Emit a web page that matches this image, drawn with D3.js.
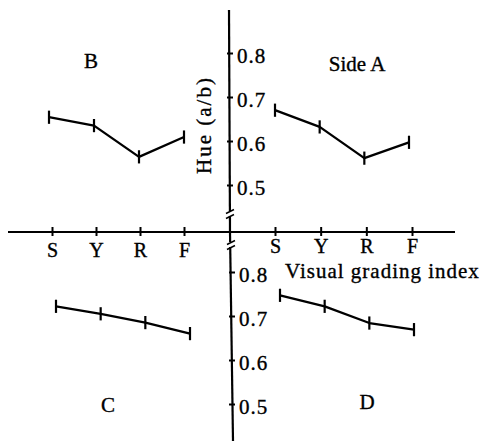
<!DOCTYPE html>
<html>
<head>
<meta charset="utf-8">
<script src="https://cdn.jsdelivr.net/npm/d3@7"></script>
<style>
html,body{margin:0;padding:0;background:#fff;}
svg{display:block;}
text{font-family:"Liberation Serif","Times New Roman",serif;fill:#000;stroke:#000;stroke-width:0.35px;}
</style>
</head>
<body>
<svg id="chart" width="484" height="441"></svg>
<script>
// ---- data ----
const grades = ["S", "Y", "R", "F"];
const yTicks = [0.5, 0.6, 0.7, 0.8];
const sideA = [0.670, 0.632, 0.561, 0.597];
const sideB = [0.654, 0.635, 0.564, 0.609];
const sideC = [0.722, 0.705, 0.685, 0.660];
const sideD = [0.747, 0.722, 0.684, 0.669];
const errA = [0.015, 0.015, 0.015, 0.015];
const errB = [0.015, 0.015, 0.015, 0.015];
const errC = [0.015, 0.015, 0.015, 0.015];
const errD = [0.015, 0.015, 0.015, 0.015];
const panelLabels = ["Side A", "B", "C", "D"];
const yTitle = "Hue (a/b)";
const xTitle = "Visual grading index";

const svg = d3.select("#chart");

// ---- scales ----
const yUpper = d3.scaleLinear().domain([0.5, 0.8]).range([185, 53]);
const yLower = d3.scaleLinear().domain([0.5, 0.8]).range([404, 272]);
const xLeftAxis = d3.scalePoint().domain(grades).range([52, 184]);
const xRightAxis = d3.scalePoint().domain(grades).range([275, 412]);
const xB = d3.scalePoint().domain(grades).range([49, 184]);
const xC = d3.scalePoint().domain(grades).range([56, 190]);
const xA = d3.scalePoint().domain(grades).range([275, 409]);
const xD = d3.scalePoint().domain(grades).range([280, 414]);

const axisY = 232;
const upperX = 230, lowerX = 232;

// ---- horizontal axis ----
svg.append("line").attr("x1", 8).attr("x2", 455).attr("y1", axisY).attr("y2", axisY)
  .attr("stroke", "#000").attr("stroke-width", 2);

function drawXAxis(scale, labelBaseline) {
  const g = svg.append("g").attr("transform", `translate(0,${axisY})`);
  const ax = d3.axisBottom(scale).tickSize(0).tickPadding(0);
  g.call(ax);
  g.select(".domain").remove();
  g.selectAll(".tick line").remove();
  g.selectAll(".tick").append("line")
    .attr("y1", -5).attr("y2", 4).attr("stroke", "#000").attr("stroke-width", 2);
  g.selectAll(".tick text")
    .attr("y", labelBaseline - axisY).attr("dy", null)
    .attr("font-size", 20).attr("font-family", "Liberation Serif, serif").attr("fill", "#000");
}
drawXAxis(xLeftAxis, 257);
drawXAxis(xRightAxis, 253);

// ---- vertical axes ----
svg.append("line").attr("x1", upperX - 1).attr("x2", upperX).attr("y1", 10).attr("y2", axisY)
  .attr("stroke", "#000").attr("stroke-width", 2.2);
svg.append("line").attr("x1", upperX).attr("x2", lowerX + 1).attr("y1", axisY).attr("y2", 441)
  .attr("stroke", "#000").attr("stroke-width", 2.2);

function drawYAxis(scale, x) {
  const g = svg.append("g").attr("transform", `translate(${x},0)`);
  const ax = d3.axisRight(scale).tickValues(yTicks).tickFormat(d3.format(".1f")).tickSize(0).tickPadding(0);
  g.call(ax);
  g.select(".domain").remove();
  g.selectAll(".tick line").remove();
  g.selectAll(".tick").append("line")
    .attr("x1", -3).attr("x2", 3).attr("stroke", "#000").attr("stroke-width", 2);
  g.selectAll(".tick text")
    .attr("x", 7).attr("dy", "0.45em")
    .attr("font-size", 21).attr("font-family", "Liberation Serif, serif")
    .attr("letter-spacing", 1).attr("fill", "#000");
}
drawYAxis(yUpper, upperX);
drawYAxis(yLower, lowerX);

// break marks
function breakMark(x, y) {
  svg.append("rect").attr("x", x - 4).attr("y", y - 3).attr("width", 8).attr("height", 5).attr("fill", "#fff");
  [-2.5, 2.5].forEach(o => {
    svg.append("line").attr("x1", x - 4).attr("x2", x + 4).attr("y1", y + o + 2).attr("y2", y + o - 2)
      .attr("stroke", "#000").attr("stroke-width", 1.5);
  });
}
breakMark(upperX, 214);
breakMark(lowerX - 1, 245);

// ---- series ----
function drawSeries(vals, errs, xs, ys) {
  const data = grades.map((g, i) => ({ g, v: vals[i], e: errs[i] }));
  const line = d3.line().x(d => xs(d.g)).y(d => ys(d.v));
  svg.append("path").datum(data).attr("d", line)
    .attr("fill", "none").attr("stroke", "#000").attr("stroke-width", 2.3).attr("stroke-linejoin", "round");
  svg.append("g").selectAll("line").data(data).join("line")
    .attr("x1", d => xs(d.g)).attr("x2", d => xs(d.g))
    .attr("y1", d => ys(d.v - d.e)).attr("y2", d => ys(d.v + d.e))
    .attr("stroke", "#000").attr("stroke-width", 2.2);
}
drawSeries(sideA, errA, xA, yUpper);
drawSeries(sideB, errB, xB, yUpper);
drawSeries(sideC, errC, xC, yLower);
drawSeries(sideD, errD, xD, yLower);

// ---- labels ----
const labelPos = [[357, 71], [91, 68], [108, 412], [367, 409]];
panelLabels.forEach((t, i) => {
  svg.append("text").attr("x", labelPos[i][0]).attr("y", labelPos[i][1])
    .attr("text-anchor", "middle").attr("font-size", 21).text(t);
});

svg.append("text").attr("transform", "translate(211,125) rotate(-90)")
  .attr("text-anchor", "middle").attr("font-size", 21).attr("letter-spacing", 2).text(yTitle);

svg.append("text").attr("x", 285).attr("y", 278)
  .attr("font-size", 21).attr("letter-spacing", 1).text(xTitle);
</script>
</body>
</html>
